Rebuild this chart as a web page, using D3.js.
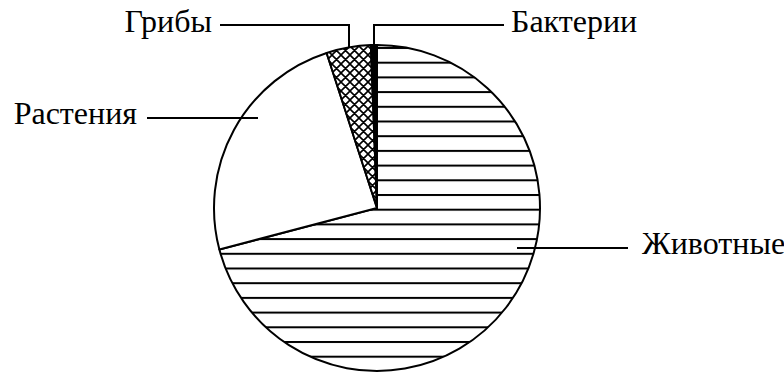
<html>
<head>
<script src="https://d3js.org/d3.v7.min.js"></script>
<style>
  body { margin: 0; background: white; }
</style>
</head>
<body>
<svg width="784" height="374"></svg>
<script>
// data, clockwise from 12 o'clock
var names = ["Животные", "Растения", "Грибы", "Бактерии"];
var shares = [70.9, 24.1, 4.4, 0.6];

var cx = 377, cy = 208, R = 163;
var svg = d3.select("svg");

// patterns
var defs = svg.append("defs");
var stripes = defs.append("pattern")
    .attr("id", "stripes")
    .attr("patternUnits", "userSpaceOnUse")
    .attr("width", 20).attr("height", 14.7);
stripes.append("rect").attr("width", 20).attr("height", 14.7).attr("fill", "white");
stripes.append("rect")
    .attr("x", 0).attr("y", 0).attr("width", 20).attr("height", 2)
    .attr("fill", "black");

var hatch = defs.append("pattern")
    .attr("id", "hatch")
    .attr("patternUnits", "userSpaceOnUse")
    .attr("width", 9).attr("height", 9);
hatch.append("rect").attr("width", 9).attr("height", 9).attr("fill", "white");
hatch.append("path")
    .attr("d", "M0,0L9,9M9,0L0,9M-1,1L1,-1M8,10L10,8M-1,8L1,10M8,-1L10,1")
    .attr("stroke", "black").attr("stroke-width", 1.6);

var fills = ["url(#stripes)", "white", "url(#hatch)", "black"];

var pie = d3.pie().sort(null).value(function(d) { return d; });
var arc = d3.arc().innerRadius(0).outerRadius(R);
var slices = pie(shares);

// stripes anchored so a line sits at y = 47 on the page
stripes.attr("patternTransform", "translate(0," + (47 - cy) + ")");

svg.append("g")
    .attr("transform", "translate(" + cx + "," + cy + ")")
    .selectAll("path").data(slices).enter().append("path")
    .attr("d", arc)
    .attr("fill", function(d, i) { return fills[i]; })
    .attr("stroke", "black")
    .attr("stroke-width", 2)
    .attr("stroke-linejoin", "round");

// leader lines and labels
var leaders = [
  { pts: [[517, 248], [628, 248]], tx: 642, ty: 254, anchor: "start" },
  { pts: [[258, 118], [147, 118]], tx: 137, ty: 124, anchor: "end" },
  { pts: [[349, 48], [349, 25], [220, 25]], tx: 212, ty: 32, anchor: "end" },
  { pts: [[374, 46], [374, 25], [504, 25]], tx: 511, ty: 32, anchor: "start" }
];

var line = d3.line();
svg.append("g").selectAll("path").data(leaders).enter().append("path")
    .attr("d", function(d) { return line(d.pts); })
    .attr("fill", "none")
    .attr("stroke", "black")
    .attr("stroke-width", 2);

svg.append("g").selectAll("text").data(leaders).enter().append("text")
    .attr("x", function(d) { return d.tx; })
    .attr("y", function(d) { return d.ty; })
    .attr("text-anchor", function(d) { return d.anchor; })
    .style("font-family", "'Liberation Serif'")
    .style("font-size", "32px")
    .style("fill", "black")
    .text(function(d, i) { return names[i]; });
</script>
</body>
</html>
